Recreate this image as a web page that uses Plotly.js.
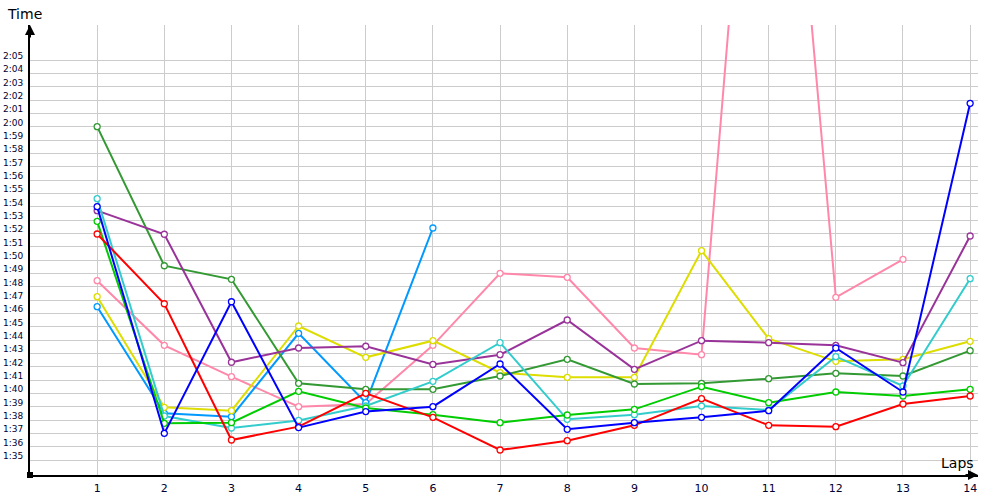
<!DOCTYPE html>
<html>
<head>
<meta charset="utf-8">
<script src="https://cdn.plot.ly/plotly-3.0.1.min.js"></script>
<style>
html,body{margin:0;padding:0;background:#fff;}
#chart{width:1000px;height:500px;}
</style>
</head>
<body>
<div id="chart"></div>
<script>
// Lap numbers
const laps = [1,2,3,4,5,6,7,8,9,10,11,12,13,14];

// Lap times in seconds for each driver/series
const darkGreen   = [120.0, 109.57, 108.55, 100.75, 100.3, 100.3, 101.3, 102.55, 100.7, 100.75, 101.1, 101.5, 101.3, 103.2];
const purple      = [113.7, 111.93, 102.33, 103.4, 103.53, 102.17, 102.9, 105.5, 101.8, 103.95, 103.8, 103.6, 102.3, 111.8];
const red         = [111.95, 106.72, 96.5, 97.5, 100.0, 98.2, 95.75, 96.45, 97.6, 99.6, 97.6, 97.5, 99.2, 99.8];
const blue        = [114.0, 97.0, 106.87, 97.43, 98.63, 99.0, 102.2, 97.3, 97.8, 98.2, 98.7, 103.4, 100.1, 121.75];
const cyan        = [114.6, 98.3, 97.4, 97.97, 99.05, 100.9, 103.8, 98.05, 98.4, 99.05, 98.75, 102.75, 100.55, 108.6];
const lightBlue   = [106.5, 98.5, 98.25, 104.5, 99.3, 112.4];
const yellow      = [107.25, 98.95, 98.7, 105.05, 102.7, 103.95, 101.55, 101.2, 101.2, 110.7, 104.1, 102.4, 102.55, 103.9];
const pink        = [108.45, 103.6, 101.25, 99.0, 99.2, 103.6, 109.0, 108.7, 103.4, 102.9, 164.0, 107.2, 110.05];
const brightGreen = [112.9, 97.75, 97.8, 100.15, 98.9, 98.4, 97.8, 98.375, 98.8, 100.5, 99.3, 100.1, 99.8, 100.3];

// Y tick values (seconds) and labels
const yTickVals = [95,96,97,98,99,100,101,102,103,104,105,106,107,108,109,110,111,112,113,114,115,116,117,118,119,120,121,122,123,124,125];
const yTickText = ["1:35","1:36","1:37","1:38","1:39","1:40","1:41","1:42","1:43","1:44","1:45","1:46","1:47","1:48","1:49","1:50","1:51","1:52","1:53","1:54","1:55","1:56","1:57","1:58","1:59","2:00","2:01","2:02","2:03","2:04","2:05"];
const xTickText = ["1","2","3","4","5","6","7","8","9","10","11","12","13","14"];

const seriesList = [
  {y: pink, color: "#ff88aa"},
  {y: lightBlue, color: "#0099ff"},
  {y: yellow, color: "#dddd00"},
  {y: darkGreen, color: "#339933"},
  {y: purple, color: "#993399"},
  {y: cyan, color: "#33cccc"},
  {y: brightGreen, color: "#00cc00"},
  {y: red, color: "#ff0000"},
  {y: blue, color: "#0000ff"}
];

const traces = seriesList.map(s => ({
  x: laps.slice(0, s.y.length),
  y: s.y,
  type: "scatter",
  mode: "lines+markers",
  line: {color: s.color, width: 2},
  marker: {symbol: "circle", size: 6, color: "#ffffff", line: {color: s.color, width: 1.3}},
  cliponaxis: true,
  showlegend: false,
  hoverinfo: "skip"
}));

const layout = {
  width: 1000, height: 500,
  margin: {l: 30, r: 22, t: 25, b: 25},
  paper_bgcolor: "#ffffff",
  plot_bgcolor: "#ffffff",
  showlegend: false,
  font: {family: "DejaVu Sans, sans-serif", color: "#000033"},
  xaxis: {
    range: [0, 14.117],
    tickvals: laps,
    ticktext: xTickText,
    showgrid: true, gridcolor: "#cccccc", gridwidth: 1,
    zeroline: false,
    showline: true, linecolor: "#000000", linewidth: 2,
    ticks: "", tickfont: {size: 11, color: "#000033"},
    ticklabelstandoff: 2,
    fixedrange: true
  },
  yaxis: {
    range: [93.875, 127.625],
    tickvals: yTickVals,
    ticktext: yTickText,
    showgrid: true, gridcolor: "#cccccc", gridwidth: 1,
    zeroline: false,
    showline: true, linecolor: "#000000", linewidth: 2,
    ticks: "", tickfont: {size: 9, color: "#000033"},
    ticklabelstandoff: 3,
    ticklabelshift: -4,
    fixedrange: true
  },
  annotations: [
    {xref: "paper", yref: "paper", x: 0, y: 1, ax: 0, ay: 14, axref: "pixel", ayref: "pixel",
     text: "", showarrow: true, arrowhead: 2, arrowsize: 1, arrowwidth: 2, arrowcolor: "#000000"},
    {xref: "paper", yref: "paper", x: 1, y: 0, ax: -14, ay: 0, axref: "pixel", ayref: "pixel",
     text: "", showarrow: true, arrowhead: 2, arrowsize: 1, arrowwidth: 2, arrowcolor: "#000000"},
    {xref: "paper", yref: "paper", x: 0, y: 1, xanchor: "left", yanchor: "bottom",
     xshift: -25, yshift: 1, text: "Time", showarrow: false,
     font: {family: "DejaVu Sans, sans-serif", size: 14, color: "#000000"}},
    {xref: "paper", yref: "paper", x: 1, y: 0, xanchor: "right", yanchor: "bottom",
     xshift: -2, yshift: 2, text: "Laps", showarrow: false,
     font: {family: "DejaVu Sans, sans-serif", size: 14, color: "#000000"}}
  ],
  shapes: [
    {type: "rect", xref: "paper", yref: "paper", xsizemode: "pixel", ysizemode: "pixel",
     xanchor: 0, yanchor: 0, x0: -3, x1: 3, y0: -3, y1: 3,
     fillcolor: "#000000", line: {width: 0}}
  ]
};

Plotly.newPlot("chart", traces, layout, {displayModeBar: false, staticPlot: true});
</script>
</body>
</html>
